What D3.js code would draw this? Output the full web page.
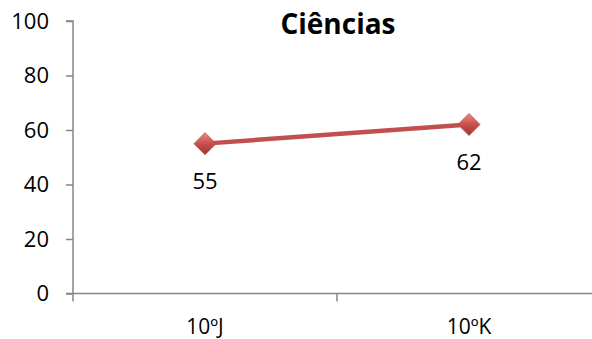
<!DOCTYPE html>
<html><head><meta charset="utf-8">
<script src="https://cdn.jsdelivr.net/npm/d3@7"></script>
<style>body{margin:0;background:#fff}svg{display:block}</style>
</head><body>
<script>
const categories = ["10ºJ", "10ºK"];
const values = [55, 62];
const yTicks = [0, 20, 40, 60, 80, 100];
const title = "Ciências";

const W = 592, H = 339;
const svg = d3.select("body").append("svg").attr("width", W).attr("height", H);
const font = "'Open Sans', sans-serif";
const axisColor = "#868686";
const x0 = 73, x1 = 601, yTop = 21, yBot = 293.5;

const x = d3.scaleBand().domain(categories).range([x0, x1]).paddingInner(0).paddingOuter(0);
const y = d3.scaleLinear().domain([0, 100]).range([yBot, yTop]);

const defs = svg.append("defs");
const g1 = defs.append("linearGradient").attr("id", "mk").attr("x1", "0").attr("y1", "0").attr("x2", "0").attr("y2", "1");
g1.append("stop").attr("offset", "0%").attr("stop-color", "#e98a86");
g1.append("stop").attr("offset", "50%").attr("stop-color", "#c9504b");
g1.append("stop").attr("offset", "100%").attr("stop-color", "#9c3532");

// y axis
const yAxis = d3.axisLeft(y).tickValues(yTicks).tickSize(7).tickPadding(17);
const ga = svg.append("g").attr("transform", `translate(${x0},0)`).call(yAxis);
ga.select(".domain").attr("stroke", axisColor).attr("stroke-width", 1.5).attr("d", `M-7,${yTop}H0V${yBot}`);
ga.selectAll(".tick line").attr("stroke", axisColor).attr("stroke-width", 1.5);
ga.selectAll(".tick text").attr("font-family", font).attr("font-size", 22).attr("fill", "#000");

// x axis
const xb = svg.append("g").attr("transform", `translate(0,${yBot})`);
xb.append("line").attr("x1", x0 - 7).attr("x2", x1).attr("y1", 0).attr("y2", 0).attr("stroke", axisColor).attr("stroke-width", 1.5);
const bounds = [x0, ...categories.map(c => x(c) + x.bandwidth())];
xb.selectAll(".xt").data(bounds).enter().append("line")
  .attr("x1", d => d).attr("x2", d => d).attr("y1", 0).attr("y2", 8)
  .attr("stroke", axisColor).attr("stroke-width", 1.5);
xb.selectAll(".xl").data(categories).enter().append("text")
  .attr("x", d => x(d) + x.bandwidth() / 2).attr("y", 40)
  .attr("text-anchor", "middle").attr("font-family", font).attr("font-size", 21).attr("fill", "#000")
  .text(d => d);

// line
const pts = categories.map((c, i) => [x(c) + x.bandwidth() / 2, y(values[i])]);
svg.append("path").attr("d", d3.line()(pts)).attr("fill", "none").attr("stroke", "#c0504d").attr("stroke-width", 4.5);

// markers
const r = 11;
svg.selectAll(".mk").data(pts).enter().append("path")
  .attr("d", d => `M${d[0]},${d[1] - r}L${d[0] + r},${d[1]}L${d[0]},${d[1] + r}L${d[0] - r},${d[1]}Z`)
  .attr("fill", "url(#mk)").attr("stroke", "#b84a46").attr("stroke-width", 0.8);

// data labels
svg.selectAll(".dl").data(pts).enter().append("text")
  .attr("x", d => d[0]).attr("y", d => d[1] + 45)
  .attr("text-anchor", "middle").attr("font-family", font).attr("font-size", 22).attr("fill", "#000")
  .text((d, i) => values[i]);

// title
svg.append("text").attr("x", 338).attr("y", 34).attr("text-anchor", "middle")
  .attr("font-family", font).attr("font-weight", "bold").attr("font-size", 28).attr("fill", "#000")
  .text(title);
</script>
</body></html>
